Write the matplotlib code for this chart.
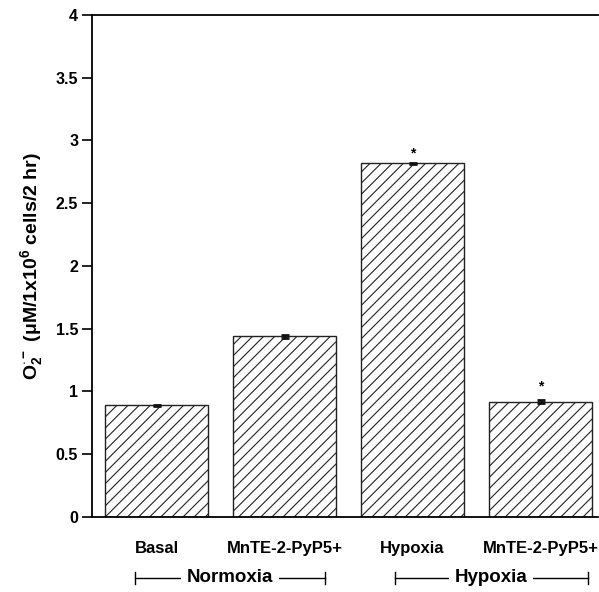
"""Superoxide production bar chart, normoxia vs hypoxia."""

import matplotlib

matplotlib.use("Agg")
import matplotlib.pyplot as plt
import numpy as np

categories = ["Basal", "MnTE-2-PyP5+", "Hypoxia", "MnTE-2-PyP5+"]
values = [0.89, 1.44, 2.82, 0.92]
errors = [0.004, 0.012, 0.004, 0.012]
star_levels = [None, None, 2.90, 1.04]
groups = ["Normoxia", "Hypoxia"]
yticks = [0, 0.5, 1, 1.5, 2, 2.5, 3, 3.5, 4]

plt.rcParams["font.family"] = ["Liberation Sans", "DejaVu Sans"]
plt.rcParams["font.weight"] = "bold"
plt.rcParams["mathtext.fontset"] = "custom"
plt.rcParams["mathtext.rm"] = "Liberation Sans:bold"
plt.rcParams["mathtext.bf"] = "Liberation Sans:bold"
plt.rcParams["mathtext.default"] = "bf"
plt.rcParams["hatch.linewidth"] = 0.8

fig = plt.figure(figsize=(5.99, 5.92), dpi=100)
ax = fig.add_axes([0.1536, 0.1267, 0.845, 0.848])

x = np.arange(len(categories))
ax.bar(x, values, width=0.8, color="white", edgecolor="#222222",
       linewidth=1.0, hatch="///")
ax.errorbar(x, values, yerr=errors, fmt="none", ecolor="#111111",
            elinewidth=2, capsize=3, capthick=2)
for xi, s in zip(x, star_levels):
    if s is not None:
        ax.text(xi, s, "*", ha="center", va="center", fontsize=10)

ax.set_xlim(-0.504, 3.45)
ax.set_ylim(0, 4)
ax.set_yticks(yticks)
ax.set_yticklabels([f"{t:g}" for t in yticks], fontsize=11.5, fontweight="bold")
ax.set_xticks(x)
ax.set_xticklabels(categories, fontsize=12, fontweight="bold")
ax.tick_params(axis="x", length=0, pad=17)
ax.tick_params(axis="y", direction="out", length=7, width=1.2, pad=3)
for s in ["left", "top", "bottom"]:
    ax.spines[s].set_linewidth(1.3)
ax.spines["right"].set_visible(False)

ax.set_ylabel(r"O$_2^{\cdot -}$ ($\mu$M/1x10$^6$ cells/2 hr)",
              fontsize=14, fontweight="bold", labelpad=8)

# group brackets under the category labels
spans = [(-0.17, 1.32), (1.86, 3.37)]
trans = ax.get_xaxis_transform()
yb = -0.1215
for name, (lo, hi) in zip(groups, spans):
    ax.plot([lo, hi], [yb, yb], color="black", lw=1.0, transform=trans, clip_on=False)
    for e in (lo, hi):
        ax.plot([e, e], [yb - 0.012, yb + 0.012], color="black", lw=1.0,
                transform=trans, clip_on=False)
    ax.text((lo + hi) / 2, yb, name, ha="center", va="center", fontsize=13.5,
            fontweight="bold", transform=trans,
            bbox=dict(facecolor="white", edgecolor="none", pad=4))

fig.savefig("out.png", dpi=100)
